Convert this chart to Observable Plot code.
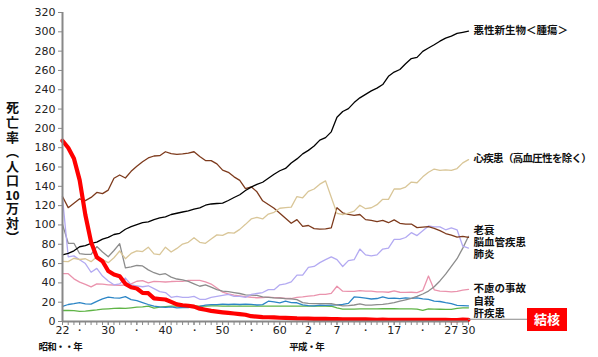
<!DOCTYPE html>
<html><head><meta charset="utf-8">
<script src="https://cdn.jsdelivr.net/npm/d3@7"></script>
<script src="https://cdn.jsdelivr.net/npm/@observablehq/plot@0.6"></script>
<style>
body{margin:0;background:#fff;}
#wrap{position:relative;width:598px;height:357px;overflow:hidden;}
#ytitle{position:absolute;left:5px;top:101px;writing-mode:vertical-rl;font-family:"Noto Sans CJK JP",sans-serif;font-weight:bold;font-size:13px;line-height:15px;letter-spacing:1.6px;color:#111;}
#ytitle .tcy{text-combine-upright:all;font-family:"DejaVu Sans",sans-serif;}
</style></head>
<body><div id="wrap"><div id="ytitle">死亡率（人口<span class="tcy">10</span>万対）</div></div>
<script>
const years = [1947,1948,1949,1950,1951,1952,1953,1954,1955,1956,1957,1958,1959,1960,1961,1962,1963,1964,1965,1966,1967,1968,1969,1970,1971,1972,1973,1974,1975,1976,1977,1978,1979,1980,1981,1982,1983,1984,1985,1986,1987,1988,1989,1990,1991,1992,1993,1994,1995,1996,1997,1998,1999,2000,2001,2002,2003,2004,2005,2006,2007,2008,2009,2010,2011,2012,2013,2014,2015,2016,2017,2018];

const cancer = [69.0,70.6,73.2,77.4,78.5,80.9,82.2,85.3,87.1,90.1,91.3,95.5,98.2,100.4,102.3,103.2,105.5,107.2,108.4,110.8,112.1,113.4,114.5,116.3,117.7,120.4,121.7,122.2,122.6,125.3,128.4,131.3,135.7,139.1,142.0,144.2,148.3,152.5,156.1,158.5,164.2,168.4,173.6,177.2,181.7,187.8,190.4,196.4,211.6,217.5,220.4,226.7,231.6,235.2,238.8,241.7,245.4,253.9,258.3,261.0,266.9,272.3,273.5,279.7,283.2,286.6,290.3,293.5,295.5,298.3,299.5,300.7];

const heart = [62.2,62.0,65.5,64.2,65.0,62.0,67.0,64.0,60.9,66.0,73.0,65.0,70.5,73.2,72.4,77.0,70.0,69.3,77.0,72.0,75.7,80.2,82.0,86.7,82.0,81.0,85.5,89.7,89.2,92.0,91.5,95.4,100.6,106.2,107.8,106.2,111.3,113.1,117.3,117.9,118.4,129.4,128.1,134.8,137.2,142.2,145.6,128.6,112.0,110.8,112.2,114.3,120.4,116.8,117.8,121.0,126.5,126.5,137.2,137.2,139.2,144.4,143.7,149.8,154.5,157.9,156.5,157.0,156.5,158.4,164.3,167.6];

const cerebro = [129.4,117.9,122.4,127.1,125.2,128.5,133.7,132.4,136.1,148.4,151.7,148.6,155.5,160.7,165.4,169.4,171.4,171.7,175.8,173.8,173.1,173.6,174.4,175.8,170.9,166.7,166.6,163.3,156.7,154.5,149.8,146.2,137.7,139.5,134.3,125.0,121.1,117.2,112.2,106.9,101.7,105.5,98.5,99.4,96.2,95.6,96.0,96.9,117.9,112.6,111.0,110.0,110.8,105.5,104.7,103.4,104.7,102.3,105.3,101.7,100.8,100.9,97.2,97.7,98.2,96.5,94.1,91.1,89.4,87.4,88.2,87.1];

const pneumonia = [128,67,68,64,60,51,55,47,42,38,39,45,38,37,36,37,34,31,30,25,26,25,25,26,23,23,25,26,27,28,26,26,25,28,29,30,33,33,38,39,41,48,48,56,57,61,64,67,64,57,63,64,75,69,68,69,75,76,85,85,87,92,89,94,99,98,98,95,97,95,78,76];

const senility = [100.6,81,81,70.2,69.5,69.5,77.6,72,67.1,73.5,80.6,55.5,56.5,58.0,57.5,53.5,50.5,48.5,49.5,46.0,44.0,43.2,41.5,39.0,36.5,38.0,35.5,33.0,31.5,31.0,30.0,29.0,27.5,27.3,27.0,25.5,25.0,24.5,24.2,23.7,23.5,22.7,19.5,18.8,18.5,18.5,18.6,18.5,17.3,16.2,16.5,17.1,18.2,16.9,17.0,17.4,17.8,18.5,19.5,21.0,22.5,24.0,26.0,28.5,31.5,36.0,42.0,49.0,57.0,65.0,76.0,88.2];

const accident = [49.5,49.5,44.2,40.8,38.5,35.8,39.0,38.8,38.0,37.8,37.4,37.8,39.0,41.7,42.4,40.0,41.6,41.2,40.9,41.4,41.5,41.6,42.5,42.5,42.5,41.0,38.8,34.7,30.3,28.5,27.3,26.6,25.8,25.1,24.6,24.8,25.2,24.8,24.6,23.8,23.8,25.0,25.4,26.2,26.9,28.0,28.0,29.1,36.5,31.4,31.1,31.1,32.0,31.4,31.4,30.7,30.7,30.3,31.6,30.3,30.1,30.3,30.0,32.2,47.1,32.8,31.5,31.1,30.6,31.2,32.4,33.2];

const suicide = [15.7,17.6,18.5,19.6,18.2,18.0,20.9,23.4,25.2,24.5,24.3,25.7,22.7,21.6,19.6,17.6,15.9,15.1,14.7,15.2,14.2,14.5,14.5,15.3,15.6,17.0,17.4,17.5,18.0,17.6,17.9,17.6,18.0,17.7,17.1,17.5,21.0,20.4,19.4,21.2,19.6,19.4,17.3,16.4,16.1,16.9,16.6,16.9,17.2,17.8,18.8,25.4,25.0,24.1,23.3,23.8,25.5,24.0,24.2,23.7,24.4,24.0,24.4,23.4,22.9,21.0,20.7,19.5,18.5,16.8,16.4,16.1];

const liver = [11.4,11.4,11.2,10.4,10.8,11.4,12.0,12.8,13.1,13.5,13.8,13.6,14.2,14.8,15.2,15.9,13.8,14.8,15.4,15.9,16.0,16.0,16.1,16.1,16.0,16.0,16.1,16.1,16.0,16.0,16.0,16.0,16.0,16.0,16.0,16.0,16.0,16.0,16.0,16.0,16.0,16.0,16.0,16.0,16.0,16.0,16.0,15.8,14.0,12.8,12.9,12.9,13.0,13.0,13.1,13.1,13.2,13.2,13.3,13.1,13.1,13.0,12.9,11.5,13.0,12.9,12.7,12.6,12.6,13.5,14.2,14.2];

const tb = [187.2,179.9,168.8,146.4,110.3,82.2,66.5,62.4,52.3,48.6,46.9,39.0,35.5,34.2,29.6,29.3,23.9,23.3,22.8,20.3,17.8,16.8,16.3,15.4,13.3,12.1,11.0,10.2,9.5,8.9,8.3,7.6,7.0,5.5,5.0,4.6,4.4,4.3,3.9,3.7,3.5,3.2,3.1,3.0,2.8,2.8,2.7,2.6,2.6,2.3,2.2,2.2,2.3,2.1,2.0,1.8,1.9,1.8,1.8,1.8,1.7,1.8,1.7,1.7,1.7,1.7,1.7,1.6,1.5,1.5,1.9,1.8];

const seriesNames = ["肝疾患","自殺","不慮の事故","老衰","肺炎","脳血管疾患","心疾患","悪性新生物"];
const seriesValues = [liver, suicide, accident, senility, pneumonia, cerebro, heart, cancer];
const seriesColors = ["#5fb446","#2d86c6","#ea93ad","#8c8c8c","#b3aaf2","#7d3a1c","#d9c698","#000000"];

const yTicks = [0,20,40,60,80,100,120,140,160,180,200,220,240,260,280,300,320];
const xTickYears = [1947,1950,1955,1960,1965,1970,1975,1980,1985,1990,1995,2000,2005,2010,2015,2018];
const xTickLabels = ["22","・","30","・","40","・","50","・","60","2","7","・","17","・","27","30"];

const labelText = ["悪性新生物＜腫瘍＞","心疾患（高血圧性を除く）","老衰","脳血管疾患","肺炎","不慮の事故","自殺","肝疾患"];
const labelY = [301, 169, 94.5, 82, 69.5, 34, 21, 8.3];
const eraText = ["昭和・・年","平成・年"];
const eraYear = [1946.6, 1989.7];
const tbLabel = "結核";

const rows = [];
seriesNames.forEach((n, i) => years.forEach((y, j) => rows.push({series: n, year: y, value: seriesValues[i][j]})));
const tbRows = years.map((y, j) => ({year: y, value: tb[j]}));
const labels = labelText.map((t, i) => ({t, y: labelY[i]}));
const eras = eraText.map((t, i) => ({t, x: eraYear[i]}));

const jp = "'Noto Sans CJK JP', sans-serif";

const plot = Plot.plot({
  width: 598, height: 357,
  marginLeft: 62, marginRight: 130, marginTop: 12, marginBottom: 36,
  style: {fontFamily: "'DejaVu Sans', Verdana, sans-serif", fontSize: "11px", color: "#222", background: "#fff"},
  x: {domain: [1947, 2018]},
  y: {domain: [0, 320]},
  color: {domain: seriesNames, range: seriesColors},
  marks: [
    Plot.axisY(yTicks, {tickSize: 4, tickPadding: 3, label: null, stroke: "#888"}),
    Plot.axisX(years, {tickSize: 4, tickFormat: () => "", label: null, stroke: "#888"}),
    Plot.axisX(xTickYears, {tickSize: 4, tickPadding: 1, tickFormat: (d, i) => xTickLabels[i], label: null, stroke: "#888"}),
    Plot.line(rows, {x: "year", y: "value", z: "series", stroke: "series", strokeWidth: 1.3}),
    Plot.line(tbRows, {x: "year", y: "value", stroke: "#ff0000", strokeWidth: 4.2}),
    Plot.ruleY([0], {stroke: "#888", strokeWidth: 2}),
    Plot.ruleX([1947], {stroke: "#888", strokeWidth: 2}),
    Plot.text(labels, {x: () => 2018, y: "y", text: "t", textAnchor: "start", dx: 5, fontFamily: jp, fontWeight: "bold", fontSize: 10.5, fill: "#111"}),
    Plot.text(eras, {x: "x", y: () => 0, text: "t", dy: 25, textAnchor: "middle", fontFamily: jp, fontWeight: "bold", fontSize: 9.5, fill: "#111"})
  ]
});

const wrap = document.getElementById("wrap");
wrap.insertBefore(plot, wrap.firstChild);
plot.style.position = "absolute"; plot.style.left = "0"; plot.style.top = "0";

const svg = d3.select(plot);
svg.selectAll("text").filter(function(){ return this.textContent.indexOf("心疾患") === 0; }).attr("letter-spacing", "-0.7");
svg.selectAll("text").filter(function(){ return eraText.includes(this.textContent); }).attr("letter-spacing", "-0.8");

const sx = plot.scale("x"), sy = plot.scale("y");
const x0 = sx.apply(2018), y0 = sy.apply(tb[tb.length - 1]);
const bx = 527, bw = 40, by = 308, bh = 23;
svg.append("line").attr("x1", x0).attr("x2", bx).attr("y1", y0).attr("y2", y0).attr("stroke", "#888").attr("stroke-width", 1);
svg.append("rect").attr("x", bx).attr("y", by).attr("width", bw).attr("height", bh).attr("fill", "#ff0000");
svg.append("text").attr("x", bx + bw / 2).attr("y", by + bh / 2).attr("dy", "0.36em").attr("text-anchor", "middle")
  .attr("fill", "#fff").attr("font-family", jp).attr("font-weight", "bold").attr("font-size", 13).text(tbLabel);
</script>
</body></html>
